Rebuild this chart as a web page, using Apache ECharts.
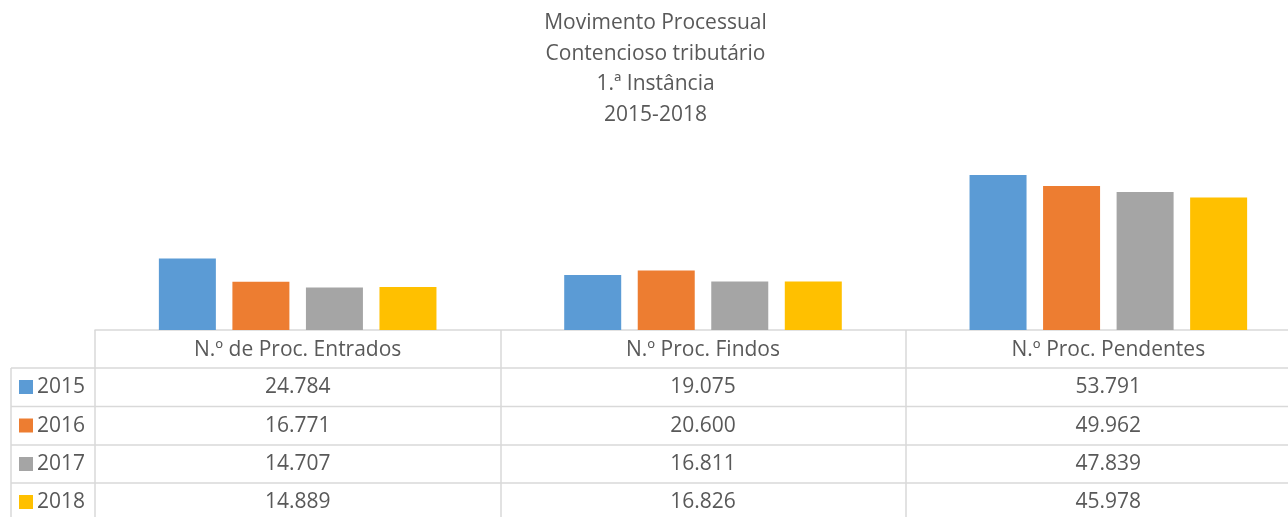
<!DOCTYPE html>
<html>
<head>
<meta charset="utf-8">
<script src="https://cdn.jsdelivr.net/npm/echarts@6/dist/echarts.min.js"></script>
<style>
  html, body { margin: 0; padding: 0; background: #fff; overflow: hidden; }
  #chart { width: 1311px; height: 517px; }
</style>
</head>
<body>
<div id="chart"></div>
<script>
// chart data
const categories = ["N.º de Proc. Entrados", "N.º Proc. Findos", "N.º Proc. Pendentes"];
const years = ["2015", "2016", "2017", "2018"];
const v2015 = [24784, 19075, 53791];
const v2016 = [16771, 20600, 49962];
const v2017 = [14707, 16811, 47839];
const v2018 = [14889, 16826, 45978];
const colors = ["#5B9BD5", "#ED7D31", "#A5A5A5", "#FFC000"];

const rows = [v2015, v2016, v2017, v2018];
const font = "Open Sans";
const fontSize = 21;
const textColor = "#595959";
const lineColor = "#d9d9d9";

const fmt = (n) => String(n).replace(/\B(?=(\d{3})+(?!\d))/g, ".");

const chartDom = document.getElementById("chart");
const myChart = echarts.init(chartDom);

const option = {
  animation: false,
  title: {
    text: "Movimento Processual\nContencioso tributário\n1.ª Instância\n2015-2018",
    left: "center",
    top: 3,
    textStyle: {
      color: textColor,
      fontFamily: font,
      fontSize: fontSize,
      fontWeight: "normal",
      lineHeight: 30.5,
    },
  },
  grid: {
    left: 95,
    top: 157,
    right: 0,
    height: 173,
    containLabel: false,
  },
  xAxis: {
    type: "category",
    data: categories,
    axisLine: { show: true, lineStyle: { color: lineColor, width: 1.5 } },
    axisTick: { show: true, length: 190, interval: 0, lineStyle: { color: lineColor, width: 1.5 } },
    axisLabel: { color: textColor, fontFamily: font, fontSize: fontSize, margin: 10, interval: 0 },
  },
  yAxis: {
    type: "value",
    min: 0,
    max: 60000,
    show: false,
    splitLine: { show: false },
  },
  series: years.map((y, i) => ({
    name: y,
    type: "bar",
    data: rows[i],
    barWidth: 57,
    barGap: "29%",
    itemStyle: { color: colors[i] },
  })),
};

myChart.setOption(option);

// data table under the axis, with the legend keys in its first column
const rowTops = [368, 406.5, 445, 483];
const graphics = [];
rowTops.forEach((t) => {
  graphics.push({
    type: "line",
    shape: { x1: 11, y1: t, x2: 1311, y2: t },
    style: { stroke: lineColor, lineWidth: 1.5 },
  });
});
graphics.push({
  type: "line",
  shape: { x1: 11, y1: 368, x2: 11, y2: 517 },
  style: { stroke: lineColor, lineWidth: 1.5 },
});
rows.forEach((vals, r) => {
  const mid = rowTops[r] + 19.5;
  graphics.push({
    type: "rect",
    shape: { x: 19, y: mid - 7.5, width: 14, height: 14 },
    style: { fill: colors[r] },
  });
  graphics.push({
    type: "text",
    x: 37,
    y: mid,
    style: {
      text: years[r],
      fill: textColor,
      font: fontSize + "px " + font,
      align: "left",
      verticalAlign: "middle",
    },
  });
  vals.forEach((v, c) => {
    const x = myChart.convertToPixel({ xAxisIndex: 0 }, c);
    graphics.push({
      type: "text",
      x: x,
      y: mid,
      style: {
        text: fmt(v),
        fill: textColor,
        font: fontSize + "px " + font,
        align: "center",
        verticalAlign: "middle",
      },
    });
  });
});
myChart.setOption({ graphic: graphics });
</script>
</body>
</html>
